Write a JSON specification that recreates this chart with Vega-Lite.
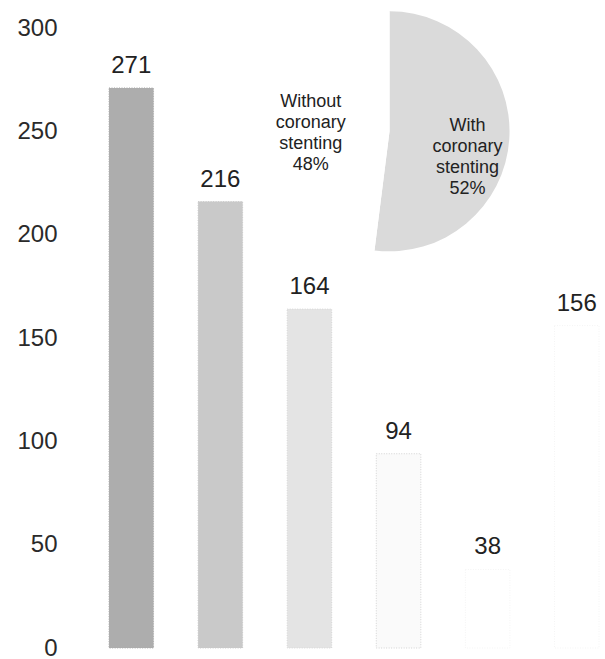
{
  "$schema": "https://vega.github.io/schema/vega-lite/v6.json",
  "width": 518,
  "height": 620,
  "autosize": "none",
  "padding": {"left": 87, "top": 28, "right": 0, "bottom": 11},
  "background": "#ffffff",
  "config": {"view": {"stroke": null}, "font": "Liberation Sans"},
  "datasets": {
    "counts": [
      {"group": "Group 1", "count": 271},
      {"group": "Group 2", "count": 216},
      {"group": "Group 3", "count": 164},
      {"group": "Group 4", "count": 94},
      {"group": "Group 5", "count": 38},
      {"group": "Group 6", "count": 156}
    ],
    "stenting": [
      {"slice": "With coronary stenting", "share": 52, "label": "With\ncoronary\nstenting\n52%"},
      {"slice": "Without coronary stenting", "share": 48, "label": "Without\ncoronary\nstenting\n48%"}
    ]
  },
  "layer": [
    {
      "data": {"name": "counts"},
      "mark": {"type": "bar", "strokeWidth": 1, "strokeDash": [1, 1.5]},
      "encoding": {
        "x": {
          "field": "group", "type": "nominal", "axis": null,
          "scale": {"range": [0, 534], "paddingInner": 0.5, "paddingOuter": 0.247}
        },
        "y": {
          "field": "count", "type": "quantitative",
          "scale": {"domain": [0, 300], "nice": false, "zero": true},
          "axis": {
            "values": [0, 50, 100, 150, 200, 250, 300],
            "title": null, "grid": false, "domain": false, "ticks": false,
            "labelFontSize": 24, "labelColor": "#2a2a2a", "labelPadding": 30,
            "labelFont": "Liberation Sans"
          }
        },
        "color": {
          "field": "group", "type": "nominal", "legend": null,
          "scale": {"range": ["#adadad", "#c9c9c9", "#e4e4e4", "#fafafa", "#ffffff", "#ffffff"]}
        },
        "stroke": {
          "field": "group", "type": "nominal", "legend": null,
          "scale": {"range": ["#adadad", "#c9c9c9", "#d6d6d6", "#d2d2d2", "#f4f4f4", "#f4f4f4"]}
        }
      }
    },
    {
      "data": {"name": "counts"},
      "mark": {"type": "text", "fontSize": 24, "dy": -15, "baseline": "alphabetic", "color": "#222222"},
      "encoding": {
        "x": {"field": "group", "type": "nominal"},
        "y": {"field": "count", "type": "quantitative"},
        "text": {"field": "count", "type": "quantitative"}
      }
    },
    {
      "data": {"name": "stenting"},
      "encoding": {
        "x": {"datum": "Group 4", "type": "nominal"},
        "y": {"datum": 250, "type": "quantitative"},
        "theta": {"field": "share", "type": "quantitative", "stack": true},
        "order": {"field": "share", "type": "quantitative", "sort": "descending"}
      },
      "layer": [
        {
          "mark": {"type": "arc", "outerRadius": 120, "xOffset": -9},
          "encoding": {
            "color": {
              "field": "slice", "type": "nominal", "legend": null,
              "scale": {"domain": ["With coronary stenting", "Without coronary stenting"], "range": ["#dadada", "#ffffff"]}
            }
          }
        },
        {
          "mark": {"type": "text", "radius": 78, "xOffset": -9, "dy": -10, "fontSize": 18, "lineHeight": 21, "lineBreak": "\n", "color": "#222222", "align": "center", "baseline": "middle"},
          "encoding": {
            "detail": {"field": "slice"},
            "text": {"condition": {"test": "datum.share == 52", "field": "label"}, "value": ""}
          }
        },
        {
          "mark": {"type": "text", "radius": 79, "xOffset": -9, "dy": -24, "fontSize": 18, "lineHeight": 21, "lineBreak": "\n", "color": "#222222", "align": "center", "baseline": "middle"},
          "encoding": {
            "detail": {"field": "slice"},
            "text": {"condition": {"test": "datum.share == 48", "field": "label"}, "value": ""}
          }
        }
      ]
    }
  ],
  "resolve": {"scale": {"color": "independent", "stroke": "independent"}}
}
